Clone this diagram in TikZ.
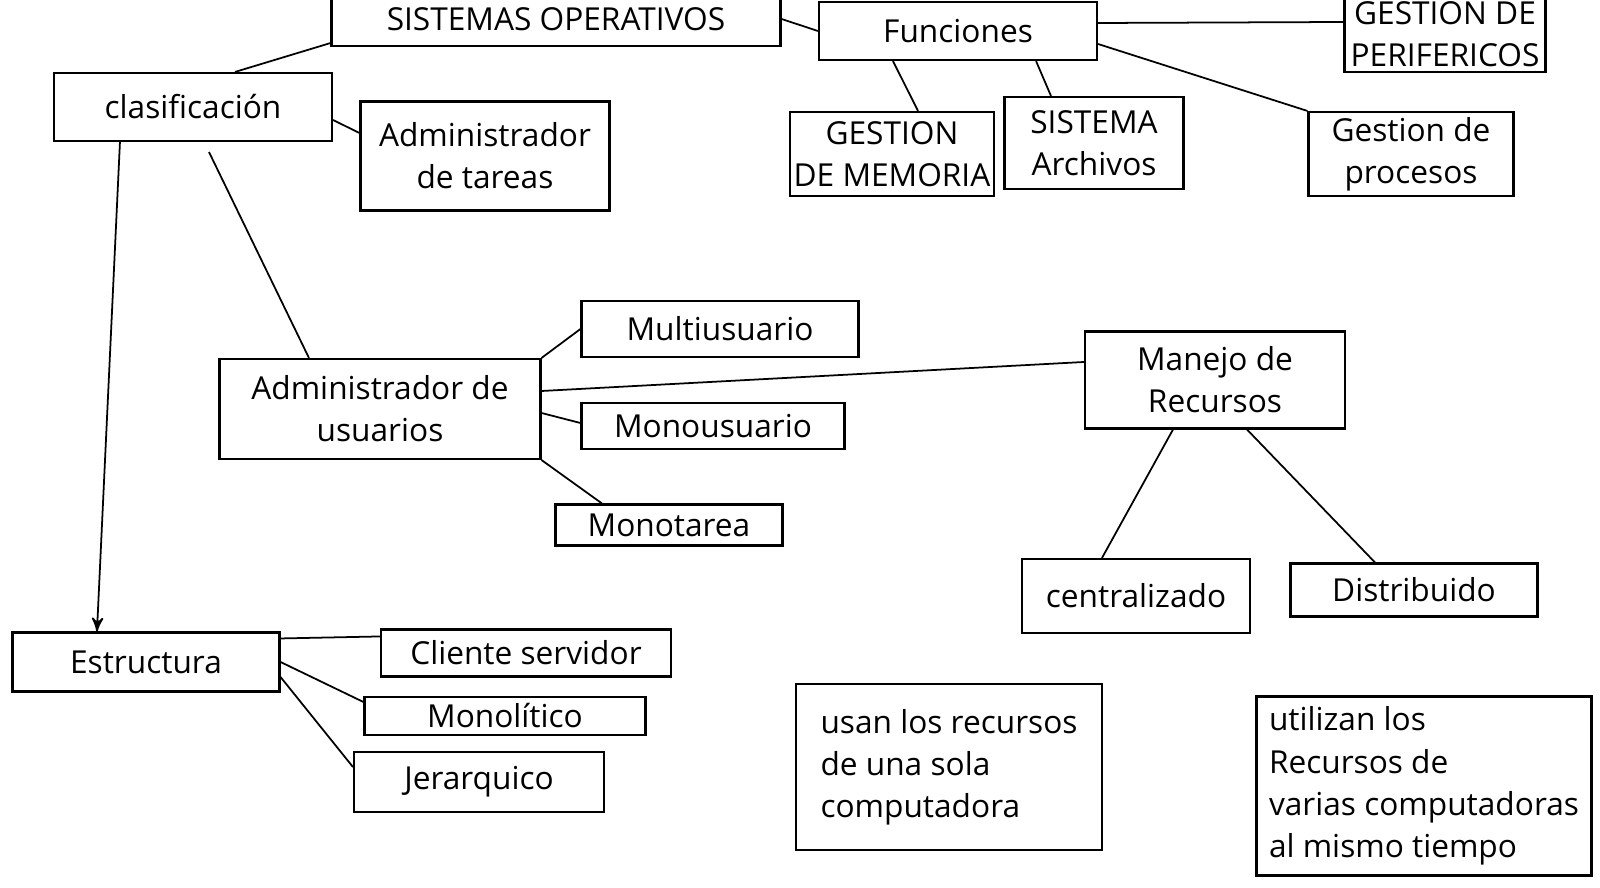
\documentclass[tikz,border=0pt]{standalone}
\usepackage{fontspec}
\setmainfont{Open Sans}
\usepackage{tikz}
\usetikzlibrary{arrows}

\begin{document}
\begin{tikzpicture}[x=0.01cm,y=-0.01cm,>=stealth',shorten >=0pt]
	\useasboundingbox (0,0) rectangle (1600,888);
	\tikzset{every node/.style={font=\fontsize{9}{12}\selectfont}}
	\tikzset{caja/.style={draw,line width=0.6pt,inner sep=1pt,align=center}}
	\tikzset{medida/.style 2 args={minimum width=#1*0.01cm,minimum height=#2*0.01cm}}
	\tikzset{linea/.style={-,line width=0.5pt}}
	% parte superior
	\node[caja,medida={449}{54}] (sis) at (556,19) {SISTEMAS OPERATIVOS};
	\node[caja,medida={278}{58}] (fun) at (958,31) {Funciones};
	\node[caja,medida={201}{76}] (per) at (1445,34) {GESTION DE\\PERIFERICOS};
	\node[caja,medida={278}{68}] (clas) at (193,107) {clasificación};
	\node[caja,medida={249}{109}] (tar) at (485,156) {Administrador\\de tareas};
	\node[caja,medida={192}{84}] (mem) at (892,154) {GESTION\\DE MEMORIA};
	\node[caja,medida={179}{92}] (arc) at (1094,143) {SISTEMA\\Archivos};
	\node[caja,medida={205}{84}] (proc) at (1411,154) {Gestion de\\procesos};
	% usuarios y recursos
	\node[caja,medida={321}{100}] (usu) at (380,409) {Administrador de\\usuarios};
	\node[caja,medida={277}{56}] (multi) at (720,329) {Multiusuario};
	\node[caja,medida={263}{46}] (mono) at (713,426) {Monousuario};
	\node[caja,medida={227}{41}] (monot) at (669,525) {Monotarea};
	\node[caja,medida={260}{97}] (man) at (1215,380) {Manejo de\\Recursos};
	\node[caja,medida={228}{74}] (cen) at (1136,596) {centralizado};
	\node[caja,medida={247}{53}] (dis) at (1414,590) {Distribuido};
	% estructura
	\node[caja,medida={267}{59}] (est) at (146,662) {Estructura};
	\node[caja,medida={290}{47}] (cli) at (526,653) {Cliente servidor};
	\node[caja,medida={281}{38}] (mlt) at (505,716) {Monolítico};
	\node[caja,medida={250}{60}] (jer) at (479,782) {Jerarquico};
	\node[caja,align=left,medida={306}{166}] (una) at (949,767) {usan los recursos\\de una sola\\computadora};
	\node[caja,align=left,medida={335}{179}] (var) at (1424,786) {utilizan los\\Recursos de\\varias computadoras\\al mismo tiempo};
	\path
	([xshift=0.42cm]clas.north) edge [linea] ([yshift=0.04cm]sis.south west)
	(sis.east) edge [linea] (fun.west)
	([yshift=0.08cm]fun.east) edge [linea] ([yshift=0.12cm]per.west)
	([xshift=-0.65cm]fun.south) edge [linea] ([xshift=0.26cm]mem.north)
	([xshift=0.78cm]fun.south) edge [linea] ([xshift=-0.43cm]arc.north)
	([yshift=-0.13cm]fun.east) edge [linea] (proc.north west)
	([yshift=-0.13cm]clas.east) edge [linea] ([yshift=0.23cm]tar.west)
	([xshift=-0.73cm]clas.south) edge [->,line width=0.5pt] ([xshift=-0.49cm]est.north)
	([xshift=0.16cm,yshift=-0.1cm]clas.south) edge [linea] ([xshift=-0.71cm]usu.north)
	(usu.north east) edge [linea] (multi.west)
	([yshift=0.18cm]usu.east) edge [linea] ([yshift=0.18cm]man.west)
	([yshift=-0.04cm]usu.east) edge [linea] ([yshift=0.03cm]mono.west)
	(usu.south east) edge [linea] ([xshift=-0.67cm]monot.north)
	([xshift=-0.42cm]man.south) edge [linea] ([xshift=-0.34cm]cen.north)
	([xshift=0.32cm]man.south) edge [linea] ([xshift=-0.39cm]dis.north)
	([yshift=-0.07cm]est.north east) edge [linea] ([yshift=-0.08cm]cli.north west)
	(est.east) edge [linea] ([yshift=0.14cm]mlt.west)
	([yshift=-0.15cm]est.east) edge [linea] ([yshift=0.15cm]jer.west);
\end{tikzpicture}
\end{document}
